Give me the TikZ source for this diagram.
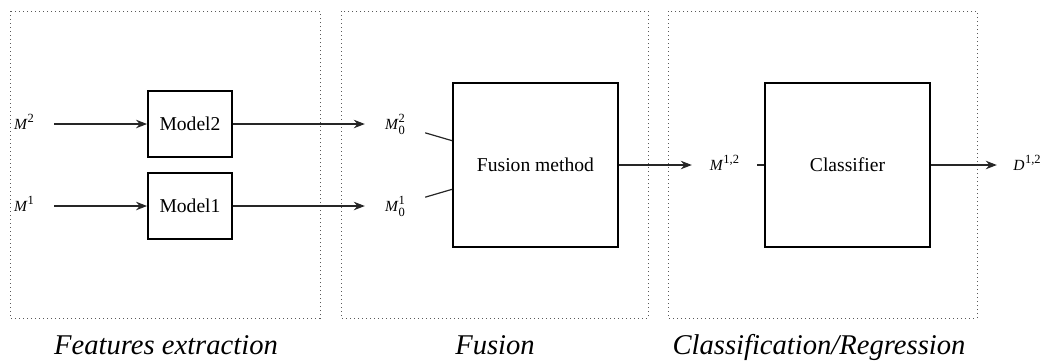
\documentclass[tikz,border=0pt]{standalone}
\usepackage{fontspec}
\setmainfont{Liberation Serif}
\usetikzlibrary{arrows.meta}
\newcommand\mylsz{\fontsize{12.5}{14}\selectfont}
\newcommand\mylab[3]{{\itshape #1}\hspace{0.6pt}\makebox[0pt][l]{\raisebox{7.6pt}{\mylsz #2}}\makebox[0pt][l]{\raisebox{-4.3pt}{\mylsz\vphantom{0}#3}}{\mylsz\phantom{#2}}}
\begin{document}
\begin{tikzpicture}[x=1pt,y=-1pt,
  stagebox/.style={draw=black!65,line width=1pt,dash pattern=on 1pt off 3pt},
  blockbox/.style={draw=black,line width=1.9pt,fill=white,inner sep=0pt,font=\fontsize{19.6}{22}\selectfont},
  lbl/.style={inner sep=0pt,minimum width=60pt,minimum height=24pt,font=\fontsize{15.5}{17}\selectfont},
  ttl/.style={anchor=base,font=\fontsize{28.6}{32}\selectfont\itshape},
  conn/.style={draw=black!85,line width=1.2pt},
  arr/.style={conn,-{Stealth[length=11pt,width=8.5pt]}}
]
\useasboundingbox (0,0) rectangle (1045,360);
% stage frames
\draw[stagebox] (10,11) rectangle (320,318);
\draw[stagebox] (341,11) rectangle (648,318);
\draw[stagebox] (668,11) rectangle (977,318);
% titles
\node[ttl] (t1) at (166,354) {Features extraction};
\node[ttl] (t2) at (495,354) {Fusion};
\node[ttl] (t3) at (819,354) {Classification/Regression};
% blocks
\node[blockbox,minimum width=84pt,minimum height=66pt] (model2) at (190,124) {Model2};
\node[blockbox,minimum width=84pt,minimum height=66pt] (model1) at (190,206) {Model1};
\node[blockbox,minimum width=165pt,minimum height=164pt] (fusion) at (535.5,165) {Fusion method};
\node[blockbox,minimum width=165pt,minimum height=164pt] (clf) at (847.5,165) {Classifier};
% labels
\node[lbl] (m2) at (24,124) {\mylab{M}{2}{}};
\node[lbl] (m1) at (24,206) {\mylab{M}{1}{}};
\node[lbl] (m02) at (395,124) {\mylab{M}{2}{0}};
\node[lbl] (m01) at (395,206) {\mylab{M}{1}{0}};
\node[lbl,minimum width=65pt] (m12) at (724.5,165) {\mylab{M}{1,2}{}};
\node[lbl] (d12) at (1027,165) {\mylab{D}{1,2}{}};
% connectors
\draw[arr] (m2) -- (model2);
\draw[arr] (m1) -- (model1);
\draw[arr] (model2) -- (m02);
\draw[arr] (model1) -- (m01);
\draw[conn] (m02) -- (fusion);
\draw[conn] (m01) -- (fusion);
\draw[arr] (fusion) -- (m12);
\draw[conn] (m12) -- (clf);
\draw[arr] (clf) -- (d12);
\end{tikzpicture}
\end{document}
